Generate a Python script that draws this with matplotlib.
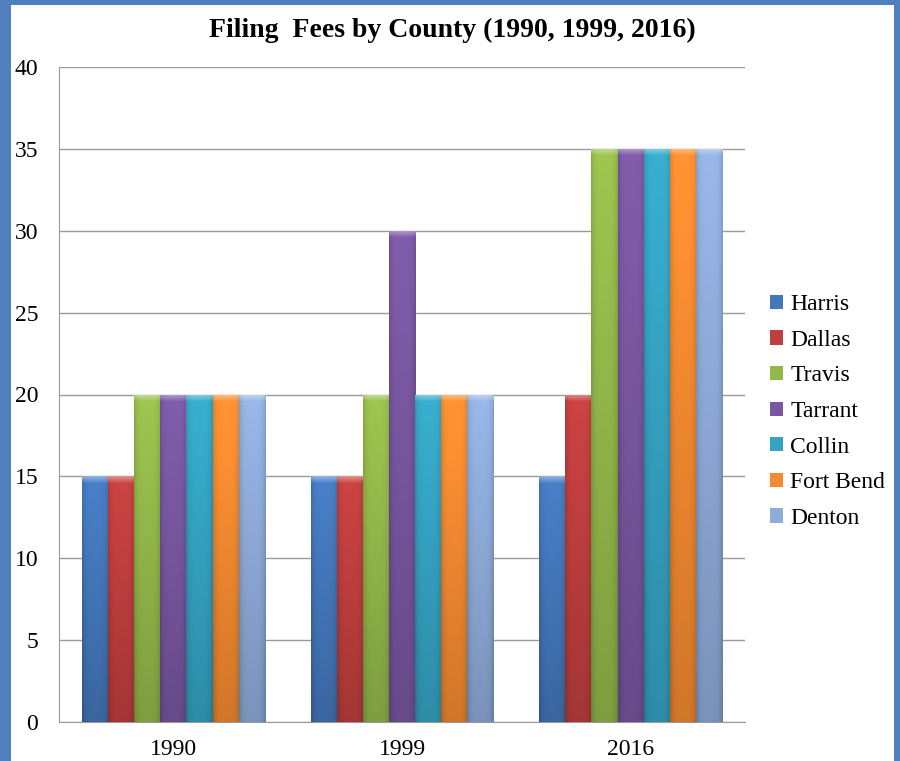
import numpy as np
import matplotlib.pyplot as plt
from matplotlib.colors import to_rgb
from matplotlib.patches import Rectangle

years = ["1990", "1999", "2016"]
counties = ["Harris", "Dallas", "Travis", "Tarrant", "Collin", "Fort Bend", "Denton"]
harris = [15, 15, 15]
dallas = [15, 15, 20]
travis = [20, 20, 35]
tarrant = [20, 30, 35]
collin = [20, 20, 35]
fort_bend = [20, 20, 35]
denton = [20, 20, 35]
series = [harris, dallas, travis, tarrant, collin, fort_bend, denton]
colors = ["#4477BA", "#BE3F3E", "#93B84A", "#7857A0", "#35A3C2", "#F38A30", "#8EABD9"]

plt.rcParams['font.family'] = ['Liberation Serif', 'DejaVu Serif']

fig = plt.figure(figsize=(9, 7.61), dpi=100)
fig.patch.set_facecolor("#4F7FBF")
# white panel
fig.patches.append(Rectangle((11 / 900, 0), 883 / 900, 756 / 761, transform=fig.transFigure,
                             facecolor="white", edgecolor="none", zorder=-5))

ax_h = 655
ax = fig.add_axes([59 / 900, 39 / 761, 686 / 900, ax_h / 761])
ax.set_zorder(2)
ax.set_facecolor("white")

x = np.arange(len(years))
width = 0.8 / len(counties)
ymax = 40


def shade(color, ny, nx=26):
    # vertical + horizontal shading, lighter bevel at the top
    base = np.array(to_rgb(color))
    t = np.linspace(0, 1, ny)[:, None]
    u = np.linspace(-1, 1, nx)[None, :]
    f = 1.08 - 0.22 * t - 0.14 * u ** 4
    img = base[None, None, :] * f[:, :, None]
    bev = 7
    for r in range(min(bev, ny)):
        k = 1 - r / bev
        img[r] = img[r] + (1 - img[r]) * 0.4 * k
    return np.clip(img, 0, 1)


for i, (name, vals, c) in enumerate(zip(counties, series, colors)):
    offs = x - 0.4 + width * (i + 0.5)
    bars = ax.bar(offs, vals, width, color=c, label=name, edgecolor="none", zorder=2)
    for b in bars:
        x0, y0 = b.get_x(), b.get_y()
        w, h = b.get_width(), b.get_height()
        npx = max(int(round(h / ymax * ax_h)), 2)
        im = ax.imshow(shade(c, npx), extent=[x0, x0 + w, y0, y0 + h], aspect="auto",
                       zorder=3, interpolation="nearest")
        im.set_clip_path(b)

ax.set_xlim(-0.5, 2.5)
ax.set_ylim(0, ymax)
ax.set_yticks(range(0, 41, 5))
ax.set_xticks(x)
ax.set_xticklabels(years)
ax.yaxis.grid(True, color="#9A9A9A", linewidth=1)
ax.set_axisbelow(True)
for s in ["top", "right"]:
    ax.spines[s].set_visible(False)
for s in ["left", "bottom"]:
    ax.spines[s].set_color("#9A9A9A")
ax.tick_params(axis="y", length=0, pad=15, labelsize=17)
ax.tick_params(axis="x", length=0, pad=12, labelsize=17)

fig.text(452 / 900, 1 - 30 / 761, "Filing  Fees by County (1990, 1999, 2016)",
         ha="center", va="center", fontsize=20, fontweight="bold")

leg = ax.legend(loc="center left", bbox_to_anchor=(1 + 25 / 686, 0.474), frameon=False,
                fontsize=17, handlelength=0.55, handleheight=0.55, handletextpad=0.3,
                labelspacing=0.62, borderpad=0, borderaxespad=0)

fig.savefig("out.png", dpi=100, facecolor=fig.get_facecolor())
